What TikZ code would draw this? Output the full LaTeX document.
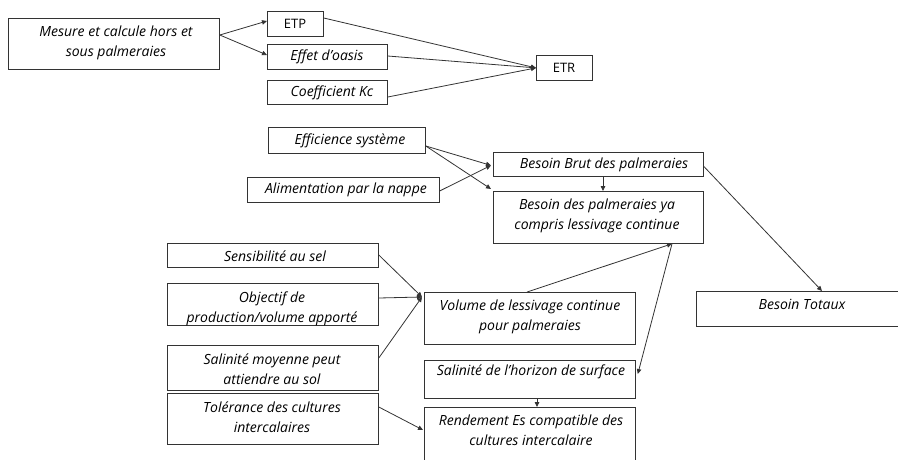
\documentclass[tikz,border=0pt]{standalone}
\usepackage{fontspec}
\setmainfont{Open Sans}
\usetikzlibrary{arrows.meta,calc}
\begin{document}
\begin{tikzpicture}[x=1pt,y=-1pt,
  box/.style={draw=black!80, line width=0.8pt, anchor=north west, inner sep=0pt},
  lbl/.style={font=\fontsize{14}{20}\selectfont\itshape, align=center, inner sep=0pt, text=black},
  ulbl/.style={font=\fontsize{13}{20}\selectfont, align=center, inner sep=0pt, text=black},
  con/.style={draw=black!80, line width=0.8pt},
  arr/.style={con, -{Triangle[length=5pt,width=4.5pt]}}]
\useasboundingbox (0,0) rectangle (898,459);
% boxes
\node[box, minimum width=211pt, minimum height=51pt] (m) at (8,18) {};
\node[box, minimum width=56pt, minimum height=25pt] (etp) at (267,11) {};
\node[box, minimum width=120pt, minimum height=25pt] (oasis) at (267,44) {};
\node[box, minimum width=120pt, minimum height=24pt] (kc) at (267,80) {};
\node[box, minimum width=56pt, minimum height=25pt] (etr) at (536,55) {};
\node[box, minimum width=157pt, minimum height=26pt] (eff) at (268,127) {};
\node[box, minimum width=192pt, minimum height=25pt] (alim) at (247,177) {};
\node[box, minimum width=210pt, minimum height=24pt] (brut) at (493,152) {};
\node[box, minimum width=210pt, minimum height=52pt] (bya) at (493,191) {};
\node[box, minimum width=211pt, minimum height=24pt] (sens) at (167,243) {};
\node[box, minimum width=211pt, minimum height=42pt] (obj) at (167,283) {};
\node[box, minimum width=211pt, minimum height=45pt] (salm) at (167,345) {};
\node[box, minimum width=211pt, minimum height=51pt] (tol) at (167,393) {};
\node[box, minimum width=211pt, minimum height=52pt] (vol) at (424,292) {};
\node[box, minimum width=211pt, minimum height=38pt] (salh) at (424,360) {};
\node[box, minimum width=211pt, minimum height=63pt] (rend) at (424,407) {};
\node[box, minimum width=215pt, minimum height=35pt] (tot) at (696,291) {};
% labels
\node[lbl] (tm) at (116,43) {Mesure et calcule hors et\\sous palmeraies};
\node[ulbl] (tetp) at (295,23.5) {ETP};
\node[lbl] (toasis) at (327,57) {Effet d'oasis};
\node[lbl] (tkc) at (332,93) {Coefficient Kc};
\node[ulbl] (tetr) at (564,68) {ETR};
\node[lbl] (teff) at (350,141) {Efficience système};
\node[lbl] (talim) at (346,190) {Alimentation par la nappe};
\node[lbl] (tbrut) at (604,165) {Besoin Brut des palmeraies};
\node[lbl] (tbya) at (597,216) {Besoin des palmeraies ya\\compris lessivage continue};
\node[lbl] (tsens) at (275,256) {Sensibilité au sel};
\node[lbl] (tobj) at (272,309) {Objectif de\\production/volume apporté};
\node[lbl] (tsalm) at (272,369) {Salinité moyenne peut\\attiendre au sol};
\node[lbl] (ttol) at (272,417) {Tolérance des cultures\\intercalaires};
\node[lbl] (tvol) at (530,317) {Volume de lessivage continue\\pour palmeraies};
\node[lbl] (tsalh) at (531,372) {Salinité de l'horizon de surface};
\node[lbl] (trend) at (531,430) {Rendement Es compatible des\\cultures intercalaire};
\node[lbl] (ttot) at (802,304) {Besoin Totaux};
% connectors
\coordinate (ms) at ($(m.north east)+(0,17)$);
\draw[arr] (ms) -- ($(etp.north west)+(0,10)$);
\draw[arr] (ms) -- ($(oasis.north west)+(0,11)$);
\draw[arr] ($(etp.north east)+(0,7)$) -- (etr.west);
\draw[arr] ($(oasis.north east)+(0,12)$) -- (etr.west);
\draw[arr] ($(kc.north east)+(0,17)$) -- (etr.west);
\coordinate (es) at ($(eff.north east)+(0,19)$);
\draw[arr] (es) -- ($(brut.west)+(-2,1)$);
\draw[arr] (es) -- ($(bya.north west)+(-2,-2)$);
\draw[arr] ($(alim.east)+(0,1)$) -- ($(brut.west)+(-2,1)$);
\draw[arr] ($(brut.south west)+(110,0)$) -- ($(bya.north west)+(110,0)$);
\draw[arr] ($(brut.east)+(0,2)$) -- ($(tot.north west)+(126,0)$);
\coordinate (vj) at ($(vol.north west)+(-2,5)$);
\draw[arr] ($(sens.north east)+(0,12)$) -- (vj);
\draw[arr] ($(obj.north east)+(0,15)$) -- (vj);
\draw[arr] ($(salm.north east)+(0,13)$) -- (vj);
\coordinate (bj) at ($(bya.south west)+(179,0)$);
\draw[arr] ($(vol.north west)+(103,0)$) -- (bj);
\draw[arr] (bj) -- ($(salh.north east)+(2,14)$);
\draw[arr] ($(salh.south west)+(113,0)$) -- ($(rend.north west)+(113,0)$);
\draw[arr] ($(tol.north east)+(0,14)$) -- ($(rend.north west)+(-1,23)$);
\end{tikzpicture}
\end{document}
